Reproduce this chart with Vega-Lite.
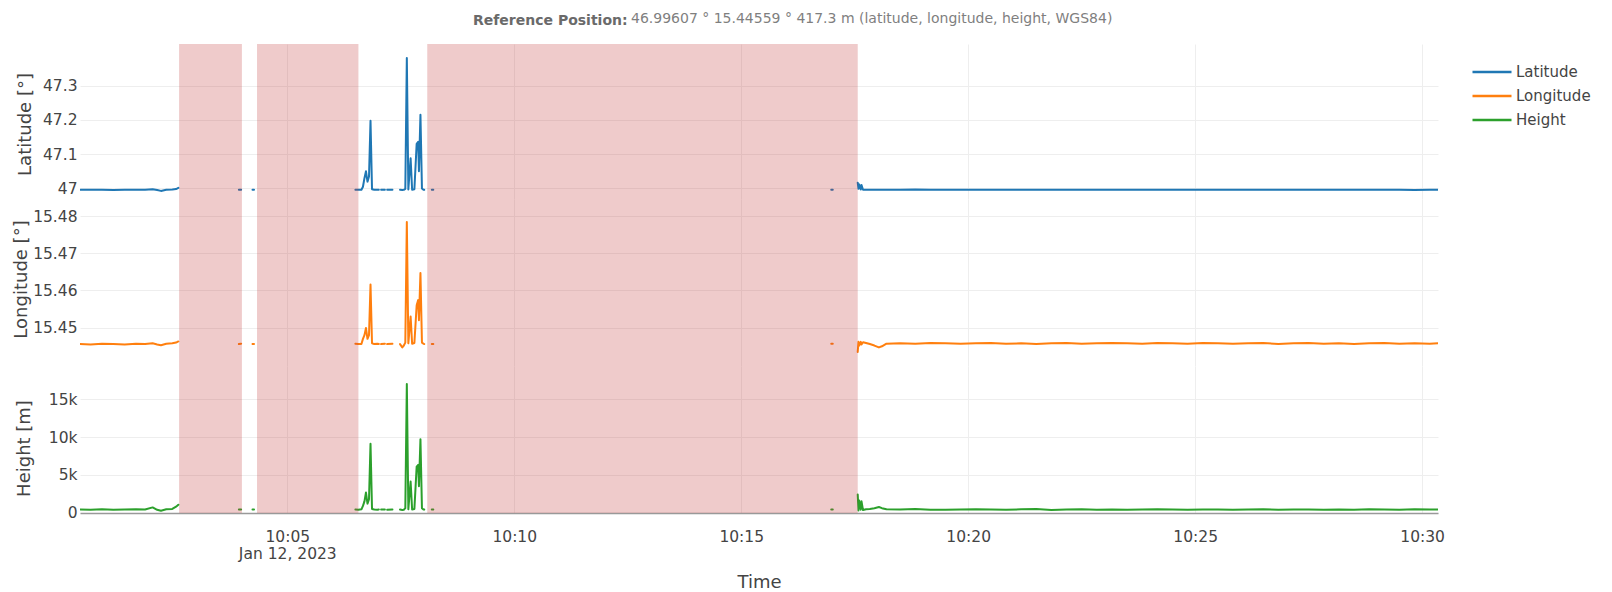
{
  "$schema": "https://vega.github.io/schema/vega-lite/v6.json",
  "background": "white",
  "padding": {"left": 12, "top": 12, "right": 5, "bottom": 5},
  "title": {
    "text": "Reference Position:",
    "anchor": "start",
    "frame": "group",
    "dx": 393,
    "dy": 16,
    "offset": 0,
    "font": "DejaVu Sans",
    "fontSize": 14,
    "fontWeight": "bold",
    "color": "#6a6a6a"
  },
  "config": {
    "view": {"stroke": null},
    "font": "DejaVu Sans",
    "axis": {
      "labelFont": "DejaVu Sans",
      "labelFontSize": 15.5,
      "labelColor": "#444",
      "titleFont": "DejaVu Sans",
      "titleFontSize": 18,
      "titleFontWeight": "normal",
      "titleColor": "#444",
      "gridColor": "#eeeeee",
      "gridWidth": 1,
      "ticks": false,
      "domain": false
    }
  },
  "datasets": {
    "pos": [
      {"t": "2023-01-12T10:00:26Z", "lat": 46.9960, "lon": 15.4456, "h": 420},
      {"t": "2023-01-12T10:00:40Z", "lat": 46.9961, "lon": 15.4455, "h": 380},
      {"t": "2023-01-12T10:00:55Z", "lat": 46.9960, "lon": 15.4457, "h": 450},
      {"t": "2023-01-12T10:01:10Z", "lat": 46.9959, "lon": 15.4456, "h": 400},
      {"t": "2023-01-12T10:01:25Z", "lat": 46.9961, "lon": 15.4455, "h": 430},
      {"t": "2023-01-12T10:01:40Z", "lat": 46.9962, "lon": 15.4457, "h": 470},
      {"t": "2023-01-12T10:01:52Z", "lat": 46.9961, "lon": 15.4456, "h": 420},
      {"t": "2023-01-12T10:02:02Z", "lat": 46.9980, "lon": 15.4458, "h": 700},
      {"t": "2023-01-12T10:02:08Z", "lat": 46.9958, "lon": 15.4455, "h": 380},
      {"t": "2023-01-12T10:02:13Z", "lat": 46.9930, "lon": 15.4453, "h": 250},
      {"t": "2023-01-12T10:02:20Z", "lat": 46.9962, "lon": 15.4457, "h": 450},
      {"t": "2023-01-12T10:02:28Z", "lat": 46.9968, "lon": 15.4458, "h": 500},
      {"t": "2023-01-12T10:02:33Z", "lat": 46.9985, "lon": 15.4460, "h": 800},
      {"t": "2023-01-12T10:02:36Z", "lat": 47.0020, "lon": 15.4463, "h": 1050},
      {"t": "2023-01-12T10:02:38Z", "lat": null, "lon": null, "h": null},
      {"t": "2023-01-12T10:03:56Z", "lat": 46.9961, "lon": 15.4456, "h": 420},
      {"t": "2023-01-12T10:03:59Z", "lat": 46.9962, "lon": 15.4457, "h": 430},
      {"t": "2023-01-12T10:04:05Z", "lat": null, "lon": null, "h": null},
      {"t": "2023-01-12T10:04:14Z", "lat": 46.9961, "lon": 15.4456, "h": 420},
      {"t": "2023-01-12T10:04:16Z", "lat": 46.9961, "lon": 15.4456, "h": 420},
      {"t": "2023-01-12T10:04:22Z", "lat": null, "lon": null, "h": null},
      {"t": "2023-01-12T10:06:30Z", "lat": 46.9962, "lon": 15.4457, "h": 420},
      {"t": "2023-01-12T10:06:34Z", "lat": 46.9960, "lon": 15.4456, "h": 400},
      {"t": "2023-01-12T10:06:38Z", "lat": 46.9962, "lon": 15.4456, "h": 450},
      {"t": "2023-01-12T10:06:40Z", "lat": 47.0050, "lon": 15.4470, "h": 900},
      {"t": "2023-01-12T10:06:42Z", "lat": 47.0300, "lon": 15.4480, "h": 1500},
      {"t": "2023-01-12T10:06:44Z", "lat": 47.0500, "lon": 15.4499, "h": 2670},
      {"t": "2023-01-12T10:06:46Z", "lat": 47.0200, "lon": 15.4470, "h": 1200},
      {"t": "2023-01-12T10:06:48Z", "lat": 47.0350, "lon": 15.4480, "h": 1800},
      {"t": "2023-01-12T10:06:50Z", "lat": 47.1970, "lon": 15.4616, "h": 9120},
      {"t": "2023-01-12T10:06:52Z", "lat": 46.9980, "lon": 15.4458, "h": 500},
      {"t": "2023-01-12T10:06:55Z", "lat": 46.9962, "lon": 15.4456, "h": 420},
      {"t": "2023-01-12T10:06:59Z", "lat": 46.9961, "lon": 15.4457, "h": 400},
      {"t": "2023-01-12T10:07:01Z", "lat": 46.9962, "lon": 15.4456, "h": 430},
      {"t": "2023-01-12T10:07:02Z", "lat": null, "lon": null, "h": null},
      {"t": "2023-01-12T10:07:04Z", "lat": 46.9961, "lon": 15.4456, "h": 420},
      {"t": "2023-01-12T10:07:09Z", "lat": 46.9962, "lon": 15.4457, "h": 410},
      {"t": "2023-01-12T10:07:10Z", "lat": null, "lon": null, "h": null},
      {"t": "2023-01-12T10:07:12Z", "lat": 46.9961, "lon": 15.4456, "h": 400},
      {"t": "2023-01-12T10:07:19Z", "lat": 46.9962, "lon": 15.4457, "h": 430},
      {"t": "2023-01-12T10:07:23Z", "lat": null, "lon": null, "h": null},
      {"t": "2023-01-12T10:07:29Z", "lat": 46.9961, "lon": 15.4456, "h": 420},
      {"t": "2023-01-12T10:07:32Z", "lat": 46.9958, "lon": 15.4447, "h": 350},
      {"t": "2023-01-12T10:07:34Z", "lat": 46.9962, "lon": 15.4452, "h": 400},
      {"t": "2023-01-12T10:07:36Z", "lat": 46.9990, "lon": 15.4460, "h": 600},
      {"t": "2023-01-12T10:07:38Z", "lat": 47.3800, "lon": 15.4784, "h": 17010},
      {"t": "2023-01-12T10:07:40Z", "lat": 46.9970, "lon": 15.4458, "h": 450},
      {"t": "2023-01-12T10:07:43Z", "lat": 47.0880, "lon": 15.4530, "h": 4120},
      {"t": "2023-01-12T10:07:45Z", "lat": 46.9965, "lon": 15.4457, "h": 430},
      {"t": "2023-01-12T10:07:48Z", "lat": 46.9980, "lon": 15.4459, "h": 500},
      {"t": "2023-01-12T10:07:51Z", "lat": 47.1300, "lon": 15.4560, "h": 6100},
      {"t": "2023-01-12T10:07:53Z", "lat": 47.1360, "lon": 15.4574, "h": 6320},
      {"t": "2023-01-12T10:07:54Z", "lat": 47.0500, "lon": 15.4520, "h": 3500},
      {"t": "2023-01-12T10:07:56Z", "lat": 47.2150, "lon": 15.4647, "h": 9700},
      {"t": "2023-01-12T10:07:58Z", "lat": 47.0000, "lon": 15.4460, "h": 600},
      {"t": "2023-01-12T10:08:00Z", "lat": 46.9962, "lon": 15.4457, "h": 420},
      {"t": "2023-01-12T10:08:01Z", "lat": 46.9961, "lon": 15.4456, "h": 410},
      {"t": "2023-01-12T10:08:03Z", "lat": null, "lon": null, "h": null},
      {"t": "2023-01-12T10:08:11Z", "lat": 46.9961, "lon": 15.4456, "h": 420},
      {"t": "2023-01-12T10:08:13Z", "lat": 46.9961, "lon": 15.4456, "h": 420},
      {"t": "2023-01-12T10:08:20Z", "lat": null, "lon": null, "h": null},
      {"t": "2023-01-12T10:16:59Z", "lat": 46.9961, "lon": 15.4457, "h": 420},
      {"t": "2023-01-12T10:17:01Z", "lat": 46.9961, "lon": 15.4457, "h": 420},
      {"t": "2023-01-12T10:17:10Z", "lat": null, "lon": null, "h": null},
      {"t": "2023-01-12T10:17:34Z", "lat": 47.0170, "lon": 15.4435, "h": 2400},
      {"t": "2023-01-12T10:17:35Z", "lat": 46.9990, "lon": 15.4462, "h": 300},
      {"t": "2023-01-12T10:17:36Z", "lat": 47.0120, "lon": 15.4452, "h": 1600},
      {"t": "2023-01-12T10:17:38Z", "lat": 46.9970, "lon": 15.4462, "h": 400},
      {"t": "2023-01-12T10:17:39Z", "lat": 47.0100, "lon": 15.4455, "h": 1500},
      {"t": "2023-01-12T10:17:41Z", "lat": 46.9965, "lon": 15.4461, "h": 350},
      {"t": "2023-01-12T10:17:45Z", "lat": 46.9962, "lon": 15.4459, "h": 450},
      {"t": "2023-01-12T10:17:50Z", "lat": 46.9960, "lon": 15.4456, "h": 500},
      {"t": "2023-01-12T10:17:56Z", "lat": 46.9963, "lon": 15.4452, "h": 600},
      {"t": "2023-01-12T10:18:02Z", "lat": 46.9962, "lon": 15.4447, "h": 750},
      {"t": "2023-01-12T10:18:06Z", "lat": 46.9961, "lon": 15.4450, "h": 600},
      {"t": "2023-01-12T10:18:12Z", "lat": 46.9962, "lon": 15.4457, "h": 450},
      {"t": "2023-01-12T10:18:30Z", "lat": 46.9961, "lon": 15.4458, "h": 420},
      {"t": "2023-01-12T10:18:50Z", "lat": 46.9968, "lon": 15.4457, "h": 480},
      {"t": "2023-01-12T10:19:10Z", "lat": 46.9961, "lon": 15.4459, "h": 400},
      {"t": "2023-01-12T10:19:30Z", "lat": 46.9960, "lon": 15.4458, "h": 380},
      {"t": "2023-01-12T10:19:50Z", "lat": 46.9961, "lon": 15.4457, "h": 430},
      {"t": "2023-01-12T10:20:10Z", "lat": 46.9962, "lon": 15.4458, "h": 460},
      {"t": "2023-01-12T10:20:30Z", "lat": 46.9961, "lon": 15.4459, "h": 410},
      {"t": "2023-01-12T10:20:50Z", "lat": 46.9960, "lon": 15.4457, "h": 390},
      {"t": "2023-01-12T10:21:10Z", "lat": 46.9962, "lon": 15.4458, "h": 440},
      {"t": "2023-01-12T10:21:30Z", "lat": 46.9961, "lon": 15.4456, "h": 500},
      {"t": "2023-01-12T10:21:50Z", "lat": 46.9960, "lon": 15.4458, "h": 360},
      {"t": "2023-01-12T10:22:10Z", "lat": 46.9961, "lon": 15.4459, "h": 420},
      {"t": "2023-01-12T10:22:30Z", "lat": 46.9962, "lon": 15.4457, "h": 450},
      {"t": "2023-01-12T10:22:50Z", "lat": 46.9961, "lon": 15.4458, "h": 400},
      {"t": "2023-01-12T10:23:10Z", "lat": 46.9960, "lon": 15.4459, "h": 430},
      {"t": "2023-01-12T10:23:30Z", "lat": 46.9961, "lon": 15.4458, "h": 390},
      {"t": "2023-01-12T10:23:50Z", "lat": 46.9962, "lon": 15.4457, "h": 410},
      {"t": "2023-01-12T10:24:10Z", "lat": 46.9961, "lon": 15.4459, "h": 440},
      {"t": "2023-01-12T10:24:30Z", "lat": 46.9960, "lon": 15.4458, "h": 420},
      {"t": "2023-01-12T10:24:50Z", "lat": 46.9961, "lon": 15.4457, "h": 400},
      {"t": "2023-01-12T10:25:10Z", "lat": 46.9962, "lon": 15.4459, "h": 430},
      {"t": "2023-01-12T10:25:30Z", "lat": 46.9961, "lon": 15.4458, "h": 410},
      {"t": "2023-01-12T10:25:50Z", "lat": 46.9960, "lon": 15.4457, "h": 380},
      {"t": "2023-01-12T10:26:10Z", "lat": 46.9961, "lon": 15.4458, "h": 420},
      {"t": "2023-01-12T10:26:30Z", "lat": 46.9962, "lon": 15.4459, "h": 440},
      {"t": "2023-01-12T10:26:50Z", "lat": 46.9961, "lon": 15.4456, "h": 400},
      {"t": "2023-01-12T10:27:10Z", "lat": 46.9960, "lon": 15.4458, "h": 410},
      {"t": "2023-01-12T10:27:30Z", "lat": 46.9961, "lon": 15.4459, "h": 430},
      {"t": "2023-01-12T10:27:50Z", "lat": 46.9962, "lon": 15.4457, "h": 390},
      {"t": "2023-01-12T10:28:10Z", "lat": 46.9961, "lon": 15.4458, "h": 420},
      {"t": "2023-01-12T10:28:30Z", "lat": 46.9960, "lon": 15.4456, "h": 380},
      {"t": "2023-01-12T10:28:50Z", "lat": 46.9961, "lon": 15.4458, "h": 450},
      {"t": "2023-01-12T10:29:10Z", "lat": 46.9962, "lon": 15.4459, "h": 430},
      {"t": "2023-01-12T10:29:30Z", "lat": 46.9961, "lon": 15.4457, "h": 400},
      {"t": "2023-01-12T10:29:50Z", "lat": 46.9958, "lon": 15.4458, "h": 440},
      {"t": "2023-01-12T10:30:10Z", "lat": 46.9961, "lon": 15.4457, "h": 420},
      {"t": "2023-01-12T10:30:21Z", "lat": 46.9961, "lon": 15.4458, "h": 410}
    ],
    "bad": [
      {"start": "2023-01-12T10:02:37Z", "end": "2023-01-12T10:04:00Z"},
      {"start": "2023-01-12T10:04:20Z", "end": "2023-01-12T10:06:34Z"},
      {"start": "2023-01-12T10:08:05Z", "end": "2023-01-12T10:17:34Z"}
    ]
  },
  "spacing": 0,
  "resolve": {"scale": {"color": "shared"}, "legend": {"color": "shared"}},
  "vconcat": [
    {
      "width": 1358,
      "height": 155,
      "title": {
        "text": "46.99607 ° 15.44559 ° 417.3 m (latitude, longitude, height, WGS84)",
        "anchor": "start",
        "frame": "group",
        "dx": 551,
        "offset": 18,
        "font": "DejaVu Sans",
        "fontSize": 14,
        "fontWeight": "normal",
        "color": "#7f7f7f"
      },
      "layer": [
        {
          "data": {"name": "pos"},
          "mark": {"type": "line", "strokeWidth": 2, "strokeJoin": "round", "strokeCap": "round", "clip": true},
          "encoding": {
            "x": {"field": "t", "type": "temporal", "scale": {"type": "utc", "domain": [1673517626000, 1673519421000]},
              "axis": {"title": null, "labels": false, "domain": false, "ticks": false, "grid": true,
                "values": [1673517900000, 1673518200000, 1673518500000, 1673518800000, 1673519100000, 1673519400000]}},
            "y": {"field": "lat", "type": "quantitative", "scale": {"domain": [46.9694, 47.4209], "nice": false, "zero": false},
              "axis": {"title": "Latitude [°]", "values": [47, 47.1, 47.2, 47.3], "format": "~r", "titleX": -50, "titleY": 80, "titleBaseline": "alphabetic", "labelPadding": 3}},
            "color": {"datum": "Latitude", "type": "nominal",
              "scale": {"domain": ["Latitude", "Longitude", "Height"], "range": ["#1f77b4", "#ff7f0e", "#2ca02c"]},
              "legend": {"orient": "none", "legendX": 1391, "legendY": 17, "title": null, "symbolType": "stroke", "symbolSize": 1521, "symbolStrokeWidth": 2.5, "labelOffset": 3, "labelFont": "DejaVu Sans", "labelFontSize": 15, "labelColor": "#444", "clipHeight": 22, "rowPadding": 2}}
          }
        },
        {
          "data": {"name": "bad"},
          "mark": {"type": "rect", "color": "#bf2f2f", "opacity": 0.25},
          "encoding": {"x": {"field": "start", "type": "temporal"}, "x2": {"field": "end"}}
        }
      ]
    },
    {
      "width": 1358,
      "height": 167,
      "layer": [
        {
          "data": {"name": "pos"},
          "mark": {"type": "line", "strokeWidth": 2, "strokeJoin": "round", "strokeCap": "round", "clip": true},
          "encoding": {
            "x": {"field": "t", "type": "temporal", "scale": {"type": "utc", "domain": [1673517626000, 1673519421000]},
              "axis": {"title": null, "labels": false, "domain": false, "ticks": false, "grid": true,
                "values": [1673517900000, 1673518200000, 1673518500000, 1673518800000, 1673519100000, 1673519400000]}},
            "y": {"field": "lon", "type": "quantitative", "scale": {"domain": [15.43971, 15.48457], "nice": false, "zero": false},
              "axis": {"title": "Longitude [°]", "values": [15.45, 15.46, 15.47, 15.48], "format": "~r", "titleX": -54, "titleY": 80, "titleBaseline": "alphabetic", "labelPadding": 3}},
            "color": {"datum": "Longitude", "type": "nominal"}
          }
        },
        {
          "data": {"name": "bad"},
          "mark": {"type": "rect", "color": "#bf2f2f", "opacity": 0.25},
          "encoding": {"x": {"field": "start", "type": "temporal"}, "x2": {"field": "end"}}
        }
      ]
    },
    {
      "width": 1358,
      "height": 147,
      "layer": [
        {
          "data": {"name": "pos"},
          "mark": {"type": "line", "strokeWidth": 2, "strokeJoin": "round", "strokeCap": "round", "clip": true},
          "encoding": {
            "x": {"field": "t", "type": "temporal", "scale": {"type": "utc", "domain": [1673517626000, 1673519421000]},
              "axis": {"title": "Time", "grid": true, "ticks": false, "domain": true, "domainColor": "#999999", "domainWidth": 1.5,
                "values": [1673517900000, 1673518200000, 1673518500000, 1673518800000, 1673519100000, 1673519400000],
                "labelExpr": "utcFormat(datum.value, '%H:%M') == '10:05' ? ['10:05', 'Jan 12, 2023'] : utcFormat(datum.value, '%H:%M')",
                "labelPadding": 16, "labelLineHeight": 17, "labelOverlap": false, "labelFlush": false, "titlePadding": 12}},
            "y": {"field": "h", "type": "quantitative", "scale": {"domain": [-40, 19405], "nice": false, "zero": false},
              "axis": {"title": "Height [m]", "values": [0, 5000, 10000, 15000], "labelExpr": "datum.value == 0 ? '0' : format(datum.value, '~s')", "titleX": -51, "titleY": 82, "titleBaseline": "alphabetic", "labelPadding": 3}},
            "color": {"datum": "Height", "type": "nominal"}
          }
        },
        {
          "data": {"name": "bad"},
          "mark": {"type": "rect", "color": "#bf2f2f", "opacity": 0.25},
          "encoding": {"x": {"field": "start", "type": "temporal"}, "x2": {"field": "end"}}
        }
      ]
    }
  ]
}
